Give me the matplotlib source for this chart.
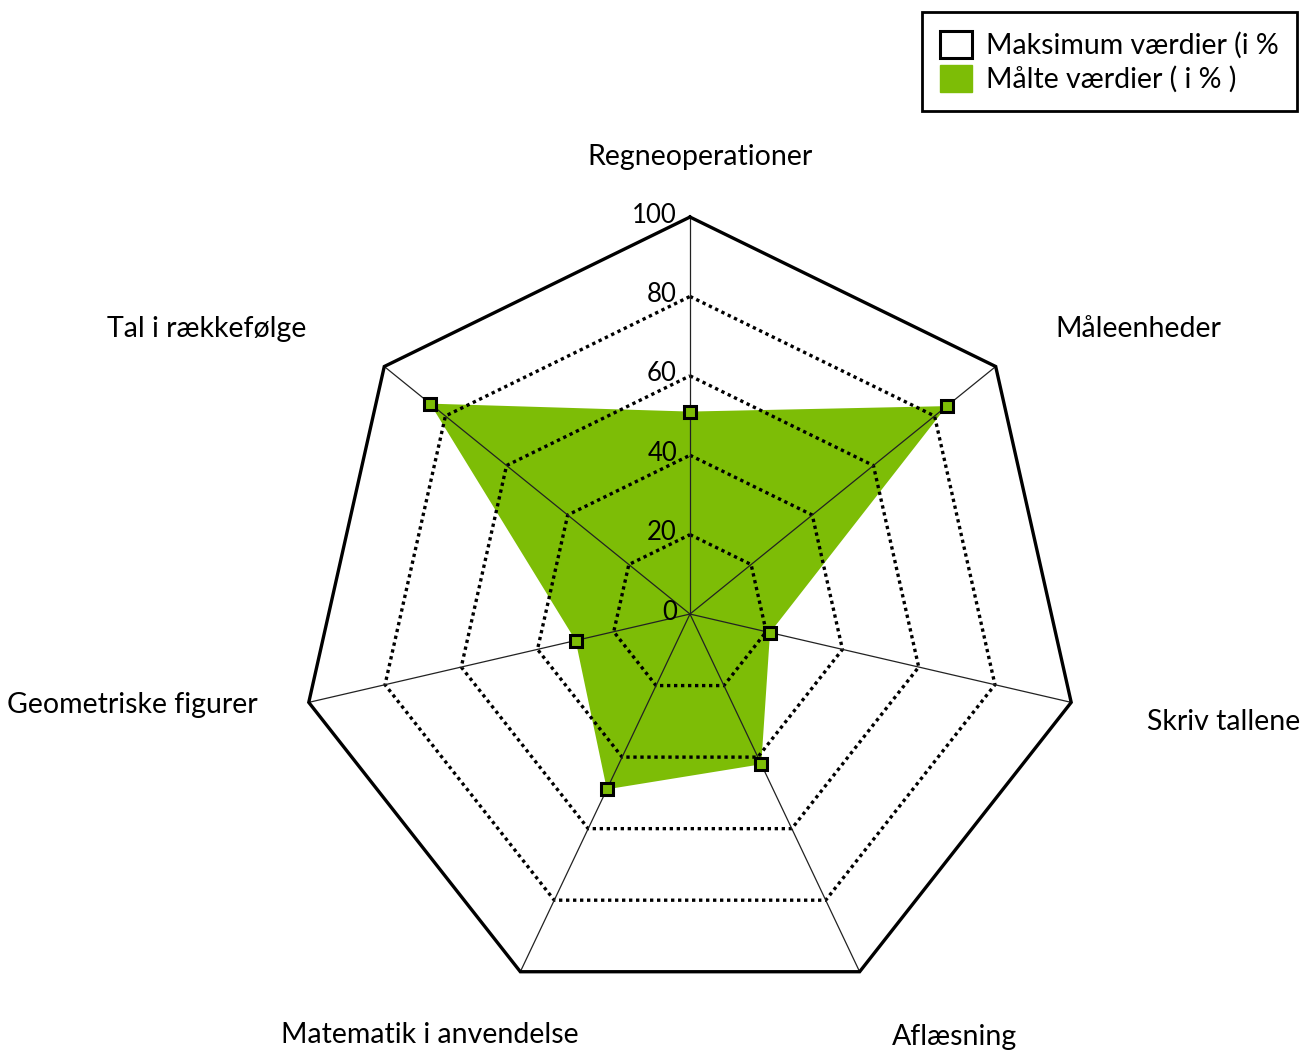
import numpy as np
import matplotlib
matplotlib.use("Agg")
from matplotlib import pyplot as plt
from matplotlib.patches import Patch

plt.rcParams['font.family'] = ['Lato', 'DejaVu Sans']

# data
categories = ["Regneoperationer", "Måleenheder", "Skriv tallene", "Aflæsning",
              "Matematik i anvendelse", "Geometriske figurer", "Tal i rækkefølge"]
measured = [51, 84, 21, 42, 49, 30, 85]
maximum = [100, 100, 100, 100, 100, 100, 100]
ring_levels = [20, 40, 60, 80]
tick_values = [0, 20, 40, 60, 80, 100]
legend_labels = ["Maksimum værdier (i %", "Målte værdier ( i % )"]

# label placement (pixel offset from the outer vertex, alignment)
label_offsets = [(10, 60, 'center'), (60, 38, 'left'), (76, -20, 'left'), (32, -65, 'left'),
                 (58, -63, 'right'), (-51, -3, 'right'), (-78, 38, 'right')]

green = '#7dbd06'

fig = plt.figure(figsize=(13.01, 10.5), dpi=100)
ax = fig.add_axes([0.2298, 0.0371, 0.6011, 0.7562], projection='polar')
ax.set_aspect('auto')
ax.set_theta_offset(np.pi / 2)
ax.set_theta_direction(-1)
ax.set_ylim(0, 100)
ax.axis('off')

n = len(categories)
theta = np.arange(n) * 2 * np.pi / n
theta_c = np.append(theta, theta[0])

def closed(vals):
    return np.append(vals, vals[0])

# measured area
ax.fill(theta_c, closed(measured), color=green, lw=0, zorder=1)

# dotted rings
for lv in ring_levels:
    ax.plot(theta_c, closed([lv] * n), color='black', lw=2.4,
            linestyle=(0, (1, 1.1)), zorder=2, clip_on=False)

# spokes
for t in theta:
    ax.plot([t, t], [0, 100], color='#222222', lw=0.9, zorder=2, clip_on=False)

# outer (maximum) polygon
ax.plot(theta_c, closed(maximum), color='black', lw=2.4, zorder=3, clip_on=False,
        solid_joinstyle='miter')

# markers
ax.plot(theta, measured, linestyle='none', marker='s', markersize=9,
        markerfacecolor=green, markeredgecolor='black', markeredgewidth=2.2,
        zorder=4, clip_on=False)

# radial tick labels
for v in tick_values:
    ax.annotate(str(v), xy=(0, v), xytext=(-13, 2), textcoords='offset pixels',
                ha='right', va='center', fontsize=18.5, zorder=5, annotation_clip=False)

# category labels
for t, name, (dx, dy, ha) in zip(theta, categories, label_offsets):
    ax.annotate(name, xy=(t, 100), xytext=(dx, dy), textcoords='offset pixels',
                ha=ha, va='center', fontsize=20.5, annotation_clip=False)

handles = [Patch(facecolor='white', edgecolor='black', linewidth=2.2),
           Patch(facecolor=green, edgecolor=green)]
leg = fig.legend(handles, legend_labels, loc='upper right',
                 bbox_to_anchor=(1297 / 1301, 1 - 12 / 1050),
                 fontsize=20.5, handlelength=1.1, handleheight=1.1,
                 handletextpad=0.5, labelspacing=0.2, borderpad=0.65,
                 borderaxespad=0, fancybox=False, framealpha=1, edgecolor='black')
leg.get_frame().set_linewidth(2)

fig.savefig("out.png", dpi=100)
